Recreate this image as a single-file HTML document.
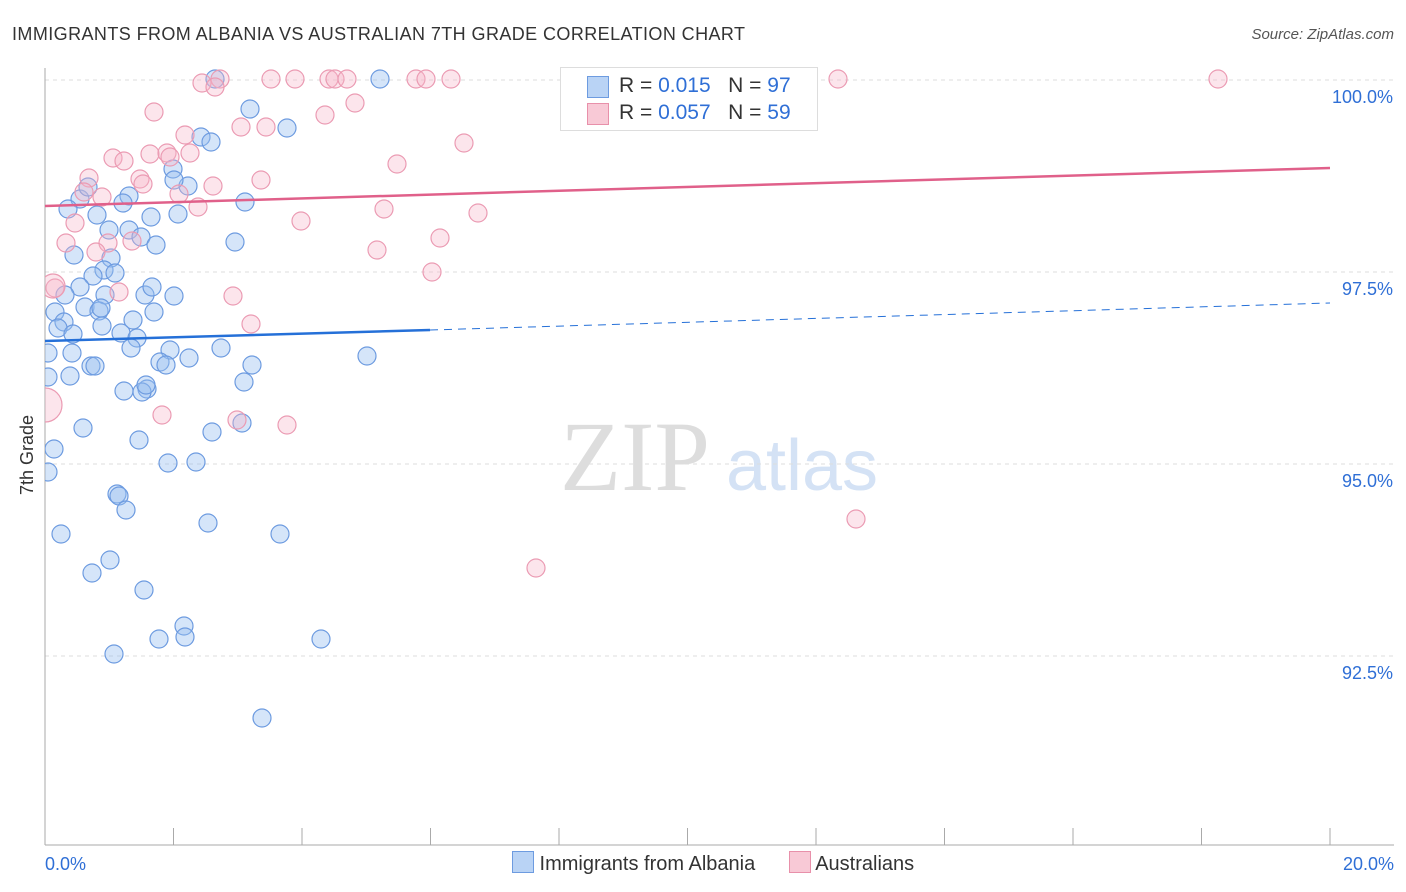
<!DOCTYPE html>
<html><head><meta charset="utf-8"><style>
body{margin:0;background:#fff;font-family:"Liberation Sans",sans-serif}
#c{position:relative;width:1406px;height:892px;overflow:hidden}
</style></head><body>
<div id="c">
<svg id="s" width="1406" height="892">
<defs><clipPath id="clip"><rect x="45" y="60" width="1360" height="785"/></clipPath></defs>
<text x="12" y="40" font-size="18" fill="#333" textLength="733">IMMIGRANTS FROM ALBANIA VS AUSTRALIAN 7TH GRADE CORRELATION CHART</text>
<text x="1394" y="39" font-size="15" fill="#555" text-anchor="end" font-style="italic">Source: ZipAtlas.com</text>
<text transform="translate(33,455) rotate(-90)" font-size="18" fill="#333" text-anchor="middle">7th Grade</text>
<g><text x="635" y="490" font-size="100" fill="#ddd" font-family="Liberation Serif,serif" text-anchor="middle">ZIP</text><text x="802" y="490" font-size="72" fill="#d4e2f5" text-anchor="middle">atlas</text></g>
<g id="grid"></g><g id="pts" clip-path="url(#clip)"></g><g id="lines"></g>
</svg>
<div style="position:absolute;left:560px;top:67px;width:256px;height:62px;border:1px solid #ddd;background:#fff;font-size:21px;color:#333">
<div style="position:absolute;left:26px;top:8px;width:20px;height:20px;background:#b9d3f5;border:1px solid #6d9be0"></div>
<div style="position:absolute;left:58px;top:6px">R = <span style="color:#2f6fd6">0.015</span>&nbsp;&nbsp;&nbsp;N = <span style="color:#2f6fd6">97</span></div>
<div style="position:absolute;left:26px;top:35px;width:20px;height:20px;background:#f8c9d6;border:1px solid #e890aa"></div>
<div style="position:absolute;left:58px;top:33px">R = <span style="color:#2f6fd6">0.057</span>&nbsp;&nbsp;&nbsp;N = <span style="color:#2f6fd6">59</span></div>
</div>
<div style="position:absolute;top:851px;left:512px;font-size:20px;color:#333;white-space:nowrap">
<span style="display:inline-block;width:20px;height:20px;background:#b9d3f5;border:1px solid #6d9be0;vertical-align:-3px"></span> Immigrants from Albania
<span style="display:inline-block;width:20px;height:20px;background:#f8c9d6;border:1px solid #e890aa;vertical-align:-3px;margin-left:28px"></span> Australians
</div>
</div>
<script>
const blueX=[215,380,250,287,201,211,173,188,174,80,88,129,123,68,97,151,178,245,109,129,141,156,235,74,111,104,115,93,80,65,105,145,174,152,55,85,99,101,154,64,58,73,102,121,133,137,131,221,170,48,72,160,166,189,91,95,252,367,48,70,244,124,147,142,83,212,139,242,54,48,168,196,117,119,126,208,280,61,110,92,144,184,159,185,321,114,262,146];
const blueY=[79,79,109,128,137,142,169,186,180,199,187,196,203,209,215,217,214,202,230,230,237,245,242,255,258,270,273,276,287,295,295,295,296,287,312,307,311,308,312,322,328,334,326,333,320,338,348,348,350,353,353,362,365,358,366,366,365,356,377,376,382,391,389,392,428,432,440,423,449,472,463,462,494,496,510,523,534,534,560,573,590,626,639,637,639,654,718,385];
const pinkX=[202,220,215,271,295,329,335,347,416,426,451,838,1218,154,355,325,241,266,185,113,124,150,167,170,190,464,397,89,102,140,143,179,213,261,198,84,75,301,384,478,132,108,66,96,440,377,432,119,233,251,55,162,237,287,45,856,536,53];
const pinkY=[83,79,87,79,79,79,79,79,79,79,79,79,79,112,103,115,127,127,135,158,161,154,153,157,153,143,164,178,197,179,184,194,186,180,207,192,223,221,209,213,241,243,243,252,238,250,272,292,296,324,288,415,420,425,405,519,568,286];
const pinkR={54:17,57:12};
const xTicks=[0,2,4,6,8,10,12,14,16,18,20];
const yTicks=[100,97.5,95,92.5];
const xv=p=>(p-45)/1285*20, yv=p=>100-(p-80)/76.8;
const X=v=>45+v/20*1285, Y=v=>80+(100-v)*76.8;
const NS="http://www.w3.org/2000/svg";
function mk(t,a,par){const e=document.createElementNS(NS,t);for(const k in a)e.setAttribute(k,a[k]);document.getElementById(par).appendChild(e);return e;}
yTicks.forEach(v=>{
 const l=mk('line',{x1:45,x2:1394,y1:Y(v),y2:Y(v),stroke:'#ddd','stroke-dasharray':'4,4'},'grid');
 
 
 const t=mk('text',{x:1393,y:Y(v)+23,'font-size':18,fill:'#2f6fd6','text-anchor':'end'},'grid');t.textContent=v.toFixed(1)+'%';
 
 
});
mk('line',{x1:45,x2:45,y1:68,y2:845,stroke:'#aaa'},'grid');
mk('line',{x1:45,x2:1394,y1:845,y2:845,stroke:'#aaa'},'grid');
xTicks.forEach(v=>{const t=mk('line',{x1:X(v),x2:X(v),y1:828,y2:845,stroke:'#aaa'},'grid');
 
 });
[[0,'0.0%','start',45],[20,'20.0%','end',1394]].forEach(a=>{const t=mk('text',{x:a[3],y:870,'font-size':18,fill:'#2f6fd6','text-anchor':a[2]},'grid');t.textContent=a[1];
 
 });
blueX.forEach((p,i)=>{const c=mk('circle',{cx:X(xv(p)),cy:Y(yv(blueY[i])),r:9,fill:'rgba(150,190,240,0.4)',stroke:'#6d9be0','stroke-width':1.2},'pts');
 
 });
pinkX.forEach((p,i)=>{const c=mk('circle',{cx:X(xv(p)),cy:Y(yv(pinkY[i])),r:pinkR[i]||9,fill:'rgba(245,180,200,0.35)',stroke:'#eb9bb3','stroke-width':1.2},'pts');
 
 });
let l=mk('line',{x1:45,y1:341,x2:430,y2:330,stroke:'#2570d8','stroke-width':2.5},'lines');


l=mk('line',{x1:430,y1:330,x2:1330,y2:303,stroke:'#2570d8','stroke-width':1,'stroke-dasharray':'8,6'},'lines');


l=mk('line',{x1:45,y1:206,x2:1330,y2:168,stroke:'#e0608a','stroke-width':2.5},'lines');


</script>
</body></html>
